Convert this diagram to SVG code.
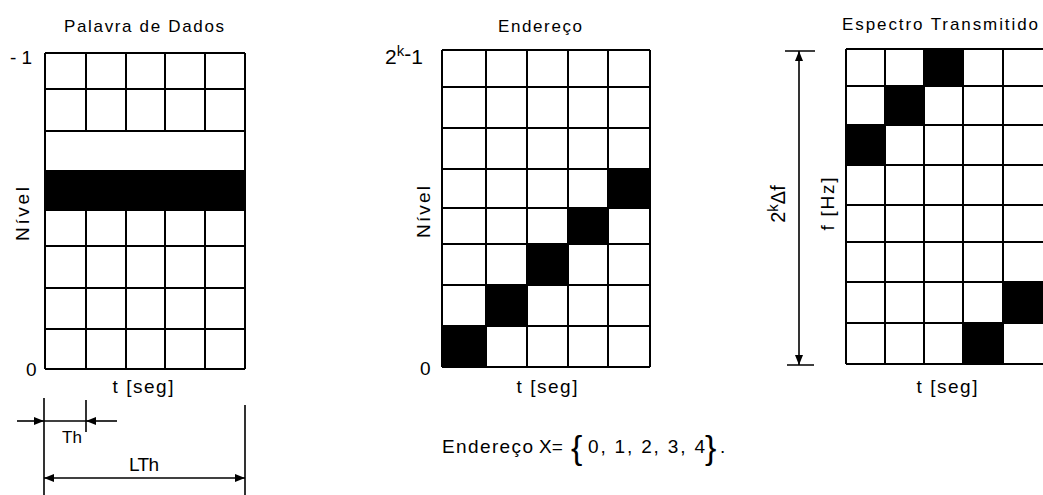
<svg xmlns="http://www.w3.org/2000/svg" width="1043" height="495" viewBox="0 0 1043 495">
<style>
text{font-family:"Liberation Sans",Arial,sans-serif;fill:#000}
.t{font-size:17px}
.L{font-size:19px}
.g{stroke:#000;stroke-width:2;fill:none}
.b{fill:#000}
.d{stroke:#000;stroke-width:1.6;fill:none}
</style>
<defs>
<marker id="ah" viewBox="0 0 10 8" refX="10" refY="4" markerWidth="10" markerHeight="8" markerUnits="userSpaceOnUse" orient="auto">
<path d="M0,0 L10,4 L0,8 Z" fill="#000"/>
</marker>
</defs>
<rect width="1043" height="495" fill="#fff"/>

<g id="palavra">
<text class="t" x="144" y="32" text-anchor="middle" textLength="160" lengthAdjust="spacing">Palavra de Dados</text>
<rect class="b" x="45" y="170" width="200" height="41"/>
<path class="g" d="M45,53 H245 M45,89 H245 M45,131 H245 M45,246 H245 M45,288 H245 M45,329 H245 M45,369 H245 M45,53 V369 M245,53 V369 M86,53 V131 M126,53 V131 M165,53 V131 M205,53 V131 M86,211 V369 M126,211 V369 M165,211 V369 M205,211 V369"/>
<text class="L" x="10" y="64">- 1</text>
<text class="L" x="26" y="376">0</text>
<text class="L" transform="translate(29,214) rotate(-90)" text-anchor="middle" textLength="54" lengthAdjust="spacing">Nível</text>
<text class="L" x="143" y="393" text-anchor="middle" textLength="61" lengthAdjust="spacing">t [seg]</text>
<text class="t" x="72" y="443" text-anchor="middle">Th</text>
<text class="L" x="144" y="471" text-anchor="middle" textLength="30" lengthAdjust="spacing">LTh</text>
</g>

<g id="endereco">
<text class="t" x="540" y="32" text-anchor="middle" textLength="84" lengthAdjust="spacing">Endereço</text>
<rect class="b" x="442" y="326" width="44" height="41"/>
<rect class="b" x="486" y="285" width="41" height="41"/>
<rect class="b" x="527" y="244" width="41" height="41"/>
<rect class="b" x="568" y="208" width="40" height="36"/>
<rect class="b" x="608" y="169" width="42" height="39"/>
<path class="g" d="M442,50 H650 M442,87 H650 M442,128 H650 M442,169 H650 M442,208 H650 M442,244 H650 M442,285 H650 M442,326 H650 M442,367 H650 M442,50 V367 M486,50 V367 M527,50 V367 M568,50 V367 M608,50 V367 M650,50 V367"/>
<text class="L" x="385" y="64" style="font-size:21px">2<tspan style="font-size:15px" dy="-8">k</tspan><tspan dy="5">-</tspan><tspan dy="3">1</tspan></text>
<text class="L" x="420" y="375">0</text>
<text class="L" transform="translate(430,212) rotate(-90)" text-anchor="middle" textLength="52" lengthAdjust="spacing">Nível</text>
<text class="L" x="547" y="393" text-anchor="middle" textLength="61" lengthAdjust="spacing">t [seg]</text>
<text class="L" x="442" y="453" textLength="91" lengthAdjust="spacing">Endereço</text>
<text class="L" x="539" y="453">X=</text>
<text x="571" y="459" style="font-size:34px">{</text>
<text class="L" x="588" y="453" textLength="117" lengthAdjust="spacing">0, 1, 2, 3, 4</text>
<text x="705" y="459" style="font-size:34px">}</text>
<text class="L" x="720" y="453">.</text>
</g>

<g id="espectro">
<text class="t" x="940" y="30" text-anchor="middle" textLength="196" lengthAdjust="spacing">Espectro Transmitido</text>
<rect class="b" x="924" y="49" width="39" height="37"/>
<rect class="b" x="885" y="86" width="39" height="39"/>
<rect class="b" x="846" y="125" width="39" height="40"/>
<rect class="b" x="1003" y="282" width="40" height="41"/>
<rect class="b" x="963" y="323" width="40" height="41"/>
<path class="g" d="M846,49 H1043 M846,86 H1043 M846,125 H1043 M846,165 H1043 M846,205 H1043 M846,242 H1043 M846,282 H1043 M846,323 H1043 M846,364 H1043 M846,49 V364 M885,49 V364 M924,49 V364 M963,49 V364 M1003,49 V364"/>
<text class="L" transform="translate(785,204) rotate(-90)" text-anchor="middle" style="font-size:20px">2<tspan style="font-size:15px" dy="-7">k</tspan><tspan dy="7">Δf</tspan></text>
<text class="L" transform="translate(834,204) rotate(-90)" text-anchor="middle" textLength="53" lengthAdjust="spacing">f [Hz]</text>
<text class="L" x="947" y="393" text-anchor="middle" textLength="61" lengthAdjust="spacing">t [seg]</text>
</g>

<g id="connectors">
<path class="d" d="M44,398 V495 M86,400 V432 M245,405 V495"/>
<path class="d" d="M17,421 H44" marker-end="url(#ah)"/>
<path class="d" d="M117,421 H86" marker-end="url(#ah)"/>
<path class="d" d="M44,421 H86"/>
<path class="d" d="M145,478 H44" marker-end="url(#ah)"/>
<path class="d" d="M145,478 H245" marker-end="url(#ah)"/>
<path class="d" d="M785,51 H815 M787,365 H814"/>
<path class="d" d="M799,208 V51" marker-end="url(#ah)"/>
<path class="d" d="M799,208 V365" marker-end="url(#ah)"/>
</g>
</svg>
